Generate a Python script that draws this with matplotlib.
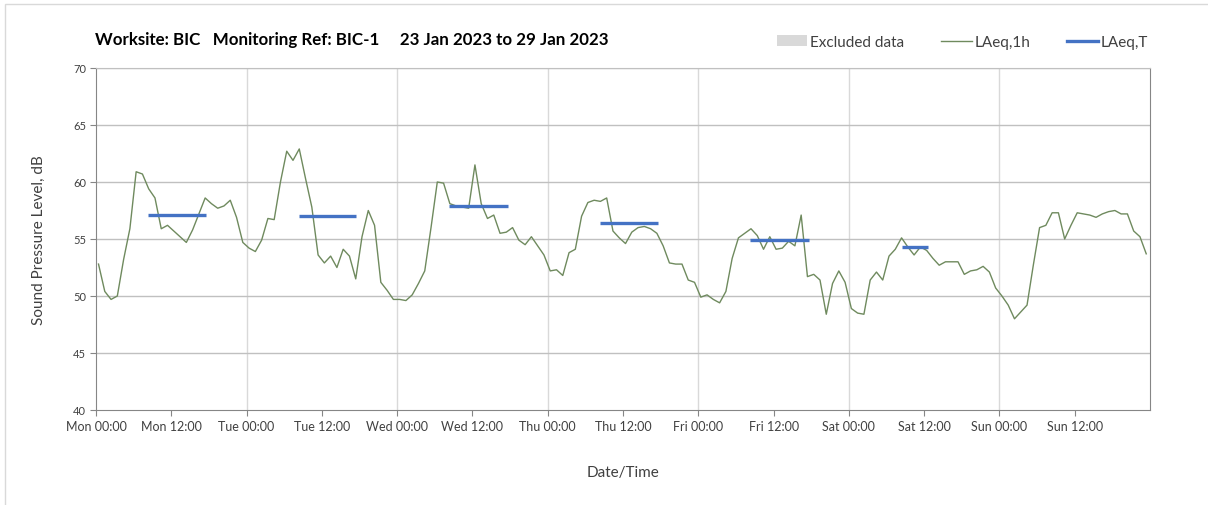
import numpy as np
import matplotlib
matplotlib.use("Agg")
import matplotlib.pyplot as plt
from matplotlib.lines import Line2D
from matplotlib.patches import Patch, Rectangle

plt.rcParams['font.family'] = ['Lato', 'DejaVu Sans']

# --- DATA ---
# hourly LAeq,1h from Mon 00:00 (one value per hour, 168 hours)
laeq_1h = [
    52.8, 50.4, 49.7, 50.0, 53.2, 55.9, 60.9, 60.7, 59.4, 58.6, 55.9, 56.2,
    55.7, 55.2, 54.7, 55.8, 57.2, 58.6, 58.1, 57.7, 57.9, 58.4, 56.9, 54.7,
    54.2, 53.9, 54.9, 56.8, 56.7, 60.0, 62.7, 61.9, 62.9, 60.3, 57.8, 53.6,
    52.9, 53.5, 52.5, 54.1, 53.5, 51.5, 55.2, 57.5, 56.2, 51.2, 50.5, 49.7,
    49.7, 49.6, 50.1, 51.1, 52.2, 56.0, 60.0, 59.9, 58.1, 57.9, 57.8, 57.7,
    61.5, 58.1, 56.8, 57.1, 55.5, 55.6, 56.0, 54.9, 54.5, 55.2, 54.4, 53.6,
    52.2, 52.3, 51.8, 53.8, 54.1, 57.0, 58.2, 58.4, 58.3, 58.6, 55.7, 55.1,
    54.6, 55.6, 56.0, 56.1, 55.9, 55.5, 54.4, 52.9, 52.8, 52.8, 51.4, 51.2,
    49.9, 50.1, 49.7, 49.4, 50.4, 53.3, 55.1, 55.5, 55.9, 55.3, 54.1, 55.2,
    54.1, 54.2, 54.8, 54.4, 57.1, 51.7, 51.9, 51.4, 48.4, 51.1, 52.2, 51.2,
    48.9, 48.5, 48.4, 51.4, 52.1, 51.4, 53.5, 54.1, 55.1, 54.3, 53.6, 54.3,
    54.0, 53.3, 52.7, 53.0, 53.0, 53.0, 51.9, 52.2, 52.3, 52.6, 52.1, 50.7,
    50.0, 49.2, 48.0, 48.6, 49.2, 52.7, 56.0, 56.2, 57.3, 57.3, 55.0, 56.2,
    57.3, 57.2, 57.1, 56.9, 57.2, 57.4, 57.5, 57.2, 57.2, 55.7, 55.2, 53.7,
]
hours = np.arange(len(laeq_1h)) + 0.4

# LAeq,T per period (day index, start hour, end hour, level)
period_day = [0, 1, 2, 3, 4, 5]
period_start = [8.3, 8.3, 8.3, 8.4, 8.3, 8.5]
period_end = [17.5, 17.5, 17.6, 17.6, 17.7, 12.6]
laeq_t = [57.1, 57.0, 57.9, 56.4, 54.9, 54.3]

tick_labels = []
for d in ['Mon', 'Tue', 'Wed', 'Thu', 'Fri', 'Sat', 'Sun']:
    tick_labels += [d + ' 00:00', d + ' 12:00']

# --- PLOT ---
fig = plt.figure(figsize=(12.08, 5.06), dpi=100)
ax = fig.add_axes([96 / 1208, 1 - 411 / 506, (1150 - 96) / 1208, (411 - 69) / 506])

# light chart border
fig.patches.append(Rectangle((5 / 1208, -0.1), 1.2, 1 - 5 / 506 + 0.1,
                             transform=fig.transFigure, fill=False,
                             edgecolor='#d9d9d9', linewidth=1))

for d in range(1, 7):
    ax.axvline(d * 24, color='#d9d9d9', linewidth=1, zorder=0)
for y in range(45, 75, 5):
    ax.axhline(y, color='#c0c0c0', linewidth=1, zorder=0)

ax.plot(hours, laeq_1h, color='#6f8a5e', linewidth=1.0, zorder=2)
for d, s, e, v in zip(period_day, period_start, period_end, laeq_t):
    ax.plot([d * 24 + s, d * 24 + e], [v, v], color='#4472c4', linewidth=2.4,
            solid_capstyle='butt', zorder=3)

ax.set_xlim(0, 168)
ax.set_ylim(40, 70)
ax.set_xticks(np.arange(0, 168, 12))
ax.set_xticklabels(tick_labels, fontsize=9, color='#404040')
ax.set_yticks(np.arange(40, 71, 5))
ax.set_yticklabels([str(v) for v in range(40, 71, 5)], fontsize=8, color='#404040')
ax.tick_params(axis='both', direction='out', length=4, color='#868686', pad=3)

for side in ['left', 'bottom', 'right']:
    ax.spines[side].set_color('#868686')
ax.spines['top'].set_color('#c0c0c0')

ax.set_ylabel('Sound Pressure Level, dB', fontsize=11, color='#404040', labelpad=20)
ax.set_xlabel('Date/Time', fontsize=11, color='#404040', labelpad=24)

fig.text(95 / 1208, 1 - 40 / 506,
         'Worksite: BIC   Monitoring Ref: BIC-1     23 Jan 2023 to 29 Jan 2023',
         fontsize=12.2, fontweight='bold', va='center', ha='left', color='#000000')

handles = [Patch(facecolor='#d9d9d9', edgecolor='none'),
           Line2D([0], [0], color='#6f8a5e', linewidth=1.0),
           Line2D([0], [0], color='#4472c4', linewidth=2.4)]
fig.legend(handles, ['Excluded data', 'LAeq,1h', 'LAeq,T'],
           loc='center right', bbox_to_anchor=(1162 / 1208, 1 - 43 / 506),
           ncol=3, frameon=False, fontsize=11, handlelength=2.0,
           handletextpad=0.2, columnspacing=2.4, labelcolor='#404040')

fig.savefig('out.png', dpi=100)
